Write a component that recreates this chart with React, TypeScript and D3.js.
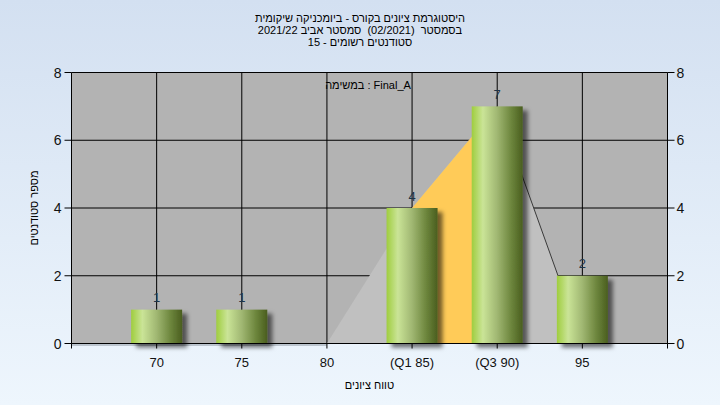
import React from "react";
import * as d3 from "d3";

const categories = [70, 75, 80, 85, 90, 95];
const tickLabels = ["70", "75", "80", "(Q1 85)", "(Q3 90)", "95"];
const counts = [1, 1, 0, 4, 7, 2];
const polyX = [80, 85, 90, 95];
const polyY = [0, 4, 7, 0];
const q1 = 85;
const q3 = 90;
const yTicks = [0, 2, 4, 6, 8];
const titleLines = [
  "היסטוגרמת ציונים בקורס - ביומכניקה שיקומית",
  "בסמסטר  (02/2021)  סמסטר אביב 2021/22",
  "סטודנטים רשומים - 15",
];
const xTitle = "טווח ציונים";
const yTitle = "מספר סטודנטים";
const taskLabel = "במשימה : Final_A";

const W = 720;
const H = 405;
const FONT = "'Liberation Sans', Arial, sans-serif";

export default function App() {
  const x = d3.scaleLinear().domain([65, 100]).range([71.5, 667.5]);
  const y = d3.scaleLinear().domain([0, 8]).range([343.5, 72.5]);
  const barW = 51;
  const interp = (v: number) => {
    for (let i = 0; i < polyX.length - 1; i++) {
      if (v >= polyX[i] && v <= polyX[i + 1]) {
        const t = (v - polyX[i]) / (polyX[i + 1] - polyX[i]);
        return polyY[i] + t * (polyY[i + 1] - polyY[i]);
      }
    }
    return 0;
  };
  const pts = polyX.map((v, i) => [v, polyY[i]] as [number, number]);
  const area = d3
    .area<[number, number]>()
    .x((d) => x(d[0]))
    .y0(y(0))
    .y1((d) => y(d[1]));
  const iqrPts: [number, number][] = [
    [q1, interp(q1)],
    ...pts.filter((p) => p[0] > q1 && p[0] < q3),
    [q3, interp(q3)],
  ];
  const line = d3
    .line<[number, number]>()
    .x((d) => x(d[0]))
    .y((d) => y(d[1]));
  const x0 = x(65);
  const x1 = x(100);
  const titleY = [21.5, 33.5, 45.5];

  return (
    <div style={{ position: "fixed", left: 0, top: 0 }}>
      <svg width={W} height={H} style={{ display: "block" }} fontFamily={FONT}>
        <defs>
          <linearGradient id="bg" x1="0" y1="0" x2="0" y2="1">
            <stop offset="0" stopColor="#d3e0f1" />
            <stop offset="1" stopColor="#eef6fd" />
          </linearGradient>
          <linearGradient id="bar" x1="0" y1="0" x2="1" y2="0">
            <stop offset="0" stopColor="#9fcd3e" />
            <stop offset="0.22" stopColor="#cae497" />
            <stop offset="0.5" stopColor="#a0b772" />
            <stop offset="0.78" stopColor="#6c853c" />
            <stop offset="1" stopColor="#4a5e1f" />
          </linearGradient>
          <filter id="shadow" x="-20%" y="-20%" width="150%" height="150%">
            <feDropShadow dx="5" dy="4" stdDeviation="2" floodColor="#000" floodOpacity="0.55" />
          </filter>
        </defs>
        <rect x={0} y={0} width={W} height={H} fill="url(#bg)" />

        {/* titles */}
        <g fontSize={11} fill="#000" textAnchor="middle">
          {titleLines.map((t, i) => (
            <text key={"t" + i} x={360} y={titleY[i]} xmlSpace="preserve" style={{ whiteSpace: "pre" }}>
              {t}
            </text>
          ))}
        </g>

        {/* plot background */}
        <rect x={x0} y={y(8)} width={x1 - x0} height={y(0) - y(8)} fill="#b3b3b3" />

        {/* gridlines */}
        <g stroke="#000" strokeWidth={1}>
          {yTicks.map((t) => (
            <line key={"gy" + t} x1={x0} x2={x1} y1={y(t)} y2={y(t)} />
          ))}
          {categories.map((c) => (
            <line key={"gx" + c} x1={x(c)} x2={x(c)} y1={y(8)} y2={y(0)} />
          ))}
        </g>

        {/* frequency polygon area */}
        <path d={area(pts) || ""} fill="#c0c0c0" />
        <path d={area(iqrPts) || ""} fill="#ffcb58" />
        <path d={line(pts.filter((p) => p[0] >= q3)) || ""} fill="none" stroke="#3a3a3a" strokeWidth={1} />
        <line x1={x0} x2={x(80)} y1={y(0) + 1.5} y2={y(0) + 1.5} stroke="#8c96a0" strokeWidth={1} />

        {/* bars */}
        {categories.map((c, i) =>
          counts[i] > 0 ? (
            <rect
              key={"b" + c}
              x={x(c) - barW / 2}
              y={y(counts[i])}
              width={barW}
              height={y(0) - y(counts[i])}
              fill="url(#bar)"
              filter="url(#shadow)"
            />
          ) : null
        )}

        {/* axes */}
        <g stroke="#000" strokeWidth={1}>
          <line x1={x0} x2={x0} y1={y(8)} y2={y(0)} />
          <line x1={x1} x2={x1} y1={y(8)} y2={y(0)} />
          <line x1={x0} x2={x1} y1={y(0)} y2={y(0)} />
          {yTicks.map((t) => (
            <g key={"ty" + t}>
              <line x1={x0 - 7} x2={x0} y1={y(t)} y2={y(t)} />
              <line x1={x1} x2={x1 + 7} y1={y(t)} y2={y(t)} />
            </g>
          ))}
          {[65, ...categories, 100].map((c) => (
            <line key={"tx" + c} x1={x(c)} x2={x(c)} y1={y(0)} y2={y(0) + 5} />
          ))}
        </g>

        {/* y tick labels */}
        <g fontSize={14} fill="#111">
          {yTicks.map((t) => (
            <text key={"ly" + t} x={x0 - 10} y={y(t)} dy="0.36em" textAnchor="end">
              {t}
            </text>
          ))}
          {yTicks.map((t) => (
            <text key={"ry" + t} x={x1 + 9} y={y(t)} dy="0.36em" textAnchor="start">
              {t}
            </text>
          ))}
        </g>

        {/* x tick labels */}
        <g fontSize={13} fill="#111" textAnchor="middle">
          {categories.map((c, i) => (
            <text key={"lx" + c} x={x(c)} y={366.5}>
              {tickLabels[i]}
            </text>
          ))}
        </g>

        {/* bar value labels */}
        <g fontSize={13} fill="#1d3448" textAnchor="middle">
          {categories.map((c, i) =>
            counts[i] > 0 ? (
              <text key={"v" + c} x={x(c)} y={y(counts[i]) - 7.5}>
                {counts[i]}
              </text>
            ) : null
          )}
        </g>

        {/* task annotation */}
        <text x={368} y={89} fontSize={11} fill="#000" textAnchor="middle">
          {taskLabel}
        </text>

        {/* axis titles */}
        <text x={(x0 + x1) / 2} y={389} fontSize={11} fill="#000" textAnchor="middle">
          {xTitle}
        </text>
        <text
          transform={`translate(38,${(y(0) + y(8)) / 2}) rotate(-90)`}
          fontSize={11}
          fill="#000"
          textAnchor="middle"
        >
          {yTitle}
        </text>
      </svg>
    </div>
  );
}
